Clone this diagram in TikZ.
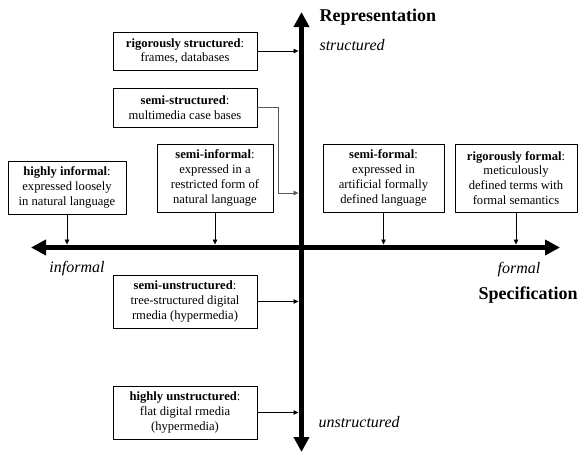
\documentclass[tikz,border=0pt]{standalone}
\usepackage{fontspec}
\setmainfont{Liberation Serif}
\usetikzlibrary{arrows.meta}

\tikzset{
    axis/.style={line width=5.5pt, -{Triangle[length=15pt, width=15pt]}},
    pointer/.style={line width=0.6pt, -{Triangle[length=5pt, width=4.5pt]}},
    kind/.style={draw, line width=0.6pt, align=center, inner sep=0pt,
        font=\fontsize{12.6}{14.8}\selectfont},
    pole/.style={font=\fontsize{16}{18}\selectfont\itshape},
    title/.style={font=\fontsize{18}{20}\selectfont\bfseries}
}

\begin{document}
\begin{tikzpicture}[x=1pt, y=-1pt]

    \useasboundingbox (0, 0) rectangle (580, 453);

    % Axes
    \coordinate (top) at (301.5, 12);
    \coordinate (bottom) at (301.5, 452);
    \coordinate (left) at (31, 247.5);
    \coordinate (right) at (560, 247.5);
    \draw[axis] (301.5, 247.5) -- (top);
    \draw[axis] (301.5, 247.5) -- (bottom);
    \draw[axis] (301.5, 247.5) -- (left);
    \draw[axis] (301.5, 247.5) -- (right);

    % Axis labels
    \node[title, anchor=west] (repr) at (316, 17) {Representation};
    \node[pole, anchor=west] (struct) at (316, 45) {structured};
    \node[pole, anchor=west] (unstruct) at (315, 422) {unstructured};
    \node[pole] (informal) at (77, 269) {informal};
    \node[pole] (formal) at (519, 270) {formal};
    \node[title] (spec) at (528, 295) {Specification};

    % Representation boxes
    \node[kind, minimum width=144pt, minimum height=38pt] (rs) at (185, 51)
        {\textbf{rigorously structured}:\\frames, databases};
    \node[kind, minimum width=144pt, minimum height=39pt] (ss) at (185, 107.5)
        {\textbf{semi-structured}:\\multimedia case bases};
    \node[kind, minimum width=144pt, minimum height=53pt] (su) at (185, 301.5)
        {\textbf{semi-unstructured}:\\tree-structured digital\\rmedia (hypermedia)};
    \node[kind, minimum width=144pt, minimum height=53pt] (hu) at (185, 412.5)
        {\textbf{highly unstructured}:\\flat digital rmedia\\(hypermedia)};

    % Specification boxes
    \node[kind, minimum width=118pt, minimum height=53pt] (hi) at (67, 187.5)
        {\textbf{highly informal}:\\expressed loosely\\in natural language};
    \node[kind, minimum width=116pt, minimum height=68pt] (si) at (215, 178)
        {\textbf{semi-informal}:\\expressed in a\\restricted form of\\natural language};
    \node[kind, minimum width=121pt, minimum height=68pt] (sf) at (383.5, 178)
        {\textbf{semi-formal}:\\expressed in\\artificial formally\\defined language};
    \node[kind, minimum width=122pt, minimum height=68pt] (rf) at (516, 178)
        {\textbf{rigorously formal}:\\meticulously\\defined terms with\\formal semantics};

    % Pointers to the axes
    \coordinate (bend) at (278, 193);
    \draw[pointer, shorten >=3pt] (rs.east) -- (rs.east -| top);
    \draw[pointer, shorten >=3pt, draw=black!65] (ss.east) -| (bend) -- (bend -| top);
    \draw[pointer, shorten >=3pt] (su.east) -- (su.east -| top);
    \draw[pointer, shorten >=3pt] (hu.east) -- (hu.east -| top);
    \draw[pointer, shorten >=3pt] (hi.south) -- (hi.south |- left);
    \draw[pointer, shorten >=3pt] (si.south) -- (si.south |- left);
    \draw[pointer, shorten >=3pt] (sf.south) -- (sf.south |- left);
    \draw[pointer, shorten >=3pt] (rf.south) -- (rf.south |- left);

\end{tikzpicture}
\end{document}
